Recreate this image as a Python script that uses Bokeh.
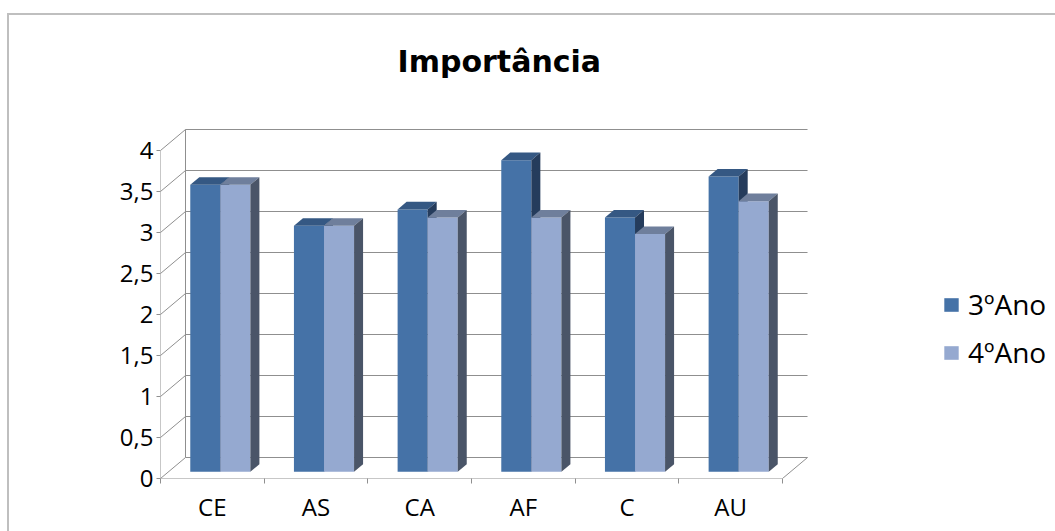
from bokeh.plotting import figure
from bokeh.models import (FixedTicker, CustomJSTickFormatter, Legend, LegendItem, Range1d)
from bokeh.embed import file_html
from bokeh.resources import INLINE

# ---- data ----
categories = ["CE", "AS", "CA", "AF", "C", "AU"]
ano3 = [3.5, 3.0, 3.2, 3.8, 3.1, 3.6]
ano4 = [3.5, 3.0, 3.1, 3.1, 2.9, 3.3]
series_names = ["3ºAno", "4ºAno"]
y_ticks = [0, 0.5, 1, 1.5, 2, 2.5, 3, 3.5, 4]
title_text = "Importância"

# ---- layout constants (pixels) ----
W, H = 1055, 531
FL, FR, FT, FB = 160, 1055, 90, 478
SX = 103.67   # px per category
SY = 82.0     # px per value unit
n = len(categories)
x_end = (FR - FL) / SX
y_end = (FB - FT) / SY
DX = 25 / SX          # full depth offset (x units)
DY = 21 / SY          # full depth offset (y units)
BAR_W = 0.29
F0, F1 = 0.32, 0.68   # bar depth span as fraction of full depth

GRID = "#8f8f8f"
FACE = [("#4572A7", "#355883", "#253C5C"), ("#95A9D0", "#6F7F9C", "#4A5568")]

p = figure(width=W, height=H, output_backend="svg", toolbar_location=None,
           x_range=Range1d(0, x_end), y_range=Range1d(0, y_end),
           min_border_left=FL, min_border_right=W - FR,
           min_border_top=FT, min_border_bottom=H - FB)
p.outline_line_color = None
p.xgrid.visible = False
p.ygrid.visible = False
p.background_fill_color = "white"
p.border_fill_color = None
# outer chart border (only top & left edges are inside the window)
p.styles = {
    "background-color": "white",
    "background-image": "linear-gradient(#bfbfbf, #bfbfbf), linear-gradient(#bfbfbf, #bfbfbf)",
    "background-size": "2px 100%, 100% 2px",
    "background-position": "7px 13px, 7px 13px",
    "background-repeat": "no-repeat",
}

# ---- 3D walls ----
ymax = y_ticks[-1]
p.segment(x0=[DX] * len(y_ticks), y0=[t + DY for t in y_ticks],
          x1=[n + DX] * len(y_ticks), y1=[t + DY for t in y_ticks],
          line_color=GRID, line_width=1)
p.segment(x0=[0] * len(y_ticks), y0=y_ticks,
          x1=[DX] * len(y_ticks), y1=[t + DY for t in y_ticks],
          line_color=GRID, line_width=1)
p.segment(x0=[DX, 0, 0, n], y0=[DY, 0, 0, 0],
          x1=[DX, 0, n, n + DX], y1=[ymax + DY, ymax, 0, DY],
          line_color=GRID, line_width=1)

# ---- 3D bars ----
bdx = (F1 - F0) * DX
bdy = (F1 - F0) * DY
fronts = []
for s, vals in enumerate([ano3, ano4]):
    left, right, bottom, top = [], [], [], []
    txs, tys, sxs, sys_ = [], [], [], []
    for i, v in enumerate(vals):
        x0 = i + 0.5 - BAR_W + s * BAR_W + F0 * DX
        x1 = x0 + BAR_W
        y0 = F0 * DY
        y1 = y0 + v
        left.append(x0); right.append(x1); bottom.append(y0); top.append(y1)
        txs.append([x0, x1, x1 + bdx, x0 + bdx])
        tys.append([y1, y1, y1 + bdy, y1 + bdy])
        sxs.append([x1, x1, x1 + bdx, x1 + bdx])
        sys_.append([y0, y1, y1 + bdy, y0 + bdy])
    fr = p.quad(left=left, right=right, bottom=bottom, top=top,
                fill_color=FACE[s][0], line_color=None)
    p.patches(xs=txs, ys=tys, fill_color=FACE[s][1], line_color=None)
    p.patches(xs=sxs, ys=sys_, fill_color=FACE[s][2], line_color=None)
    fronts.append(fr)

# ---- axes ----
yax = p.yaxis[0]
yax.ticker = FixedTicker(ticks=y_ticks, minor_ticks=[])
yax.formatter = CustomJSTickFormatter(code="return tick.toString().replace('.', ',');")
yax.axis_line_color = None
yax.major_tick_line_color = GRID
yax.major_tick_out = 4
yax.major_tick_in = 0
yax.minor_tick_line_color = None
yax.major_label_standoff = 3
yax.major_label_text_font = "Open Sans"
yax.major_label_text_font_size = "24px"
yax.major_label_text_color = "black"

xax = p.xaxis[0]
xax.ticker = FixedTicker(ticks=[i + 0.5 for i in range(n)],
                         minor_ticks=list(range(n + 1)))
xax.formatter = CustomJSTickFormatter(args=dict(names=categories),
                                      code="return names[Math.floor(tick)];")
xax.axis_line_color = None
xax.major_tick_line_color = None
xax.major_tick_out = 0
xax.major_tick_in = 0
xax.minor_tick_line_color = GRID
xax.minor_tick_out = 5
xax.minor_tick_in = 0
xax.major_label_standoff = 6
xax.major_label_text_font = "Open Sans"
xax.major_label_text_font_size = "24px"
xax.major_label_text_color = "black"

# ---- title ----
p.title.text = title_text
p.title.text_font = "DejaVu Sans"
p.title.text_font_style = "bold"
p.title.text_font_size = "30px"
p.title.align = "left"
p.title.offset = 237
p.title.text_color = "black"
p.title.standoff = 23

# ---- legend ----
legend = Legend(items=[LegendItem(label=series_names[k], renderers=[fronts[k]])
                       for k in range(2)],
                location=(782, 107), orientation="vertical",
                glyph_width=18, glyph_height=17, label_standoff=8,
                label_text_font="Open Sans", label_text_font_size="28px",
                label_text_color="black",
                label_height=38, spacing=10, padding=0, margin=0,
                border_line_color=None, background_fill_alpha=0)
p.add_layout(legend)

open("out.html", "w").write(file_html(p, INLINE))
